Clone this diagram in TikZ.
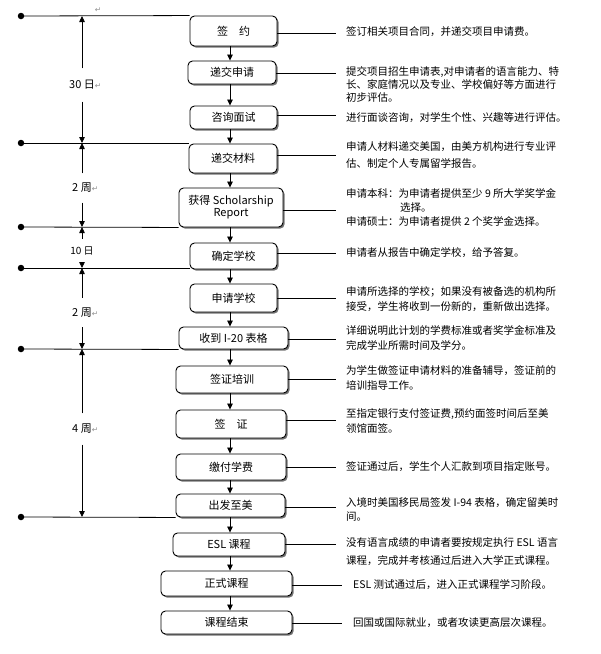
\documentclass[tikz,border=0pt]{standalone}
\usepackage{fontspec}
\setmainfont{Noto Sans CJK SC}
\newfontfamily\symfont{DejaVu Sans}
\usetikzlibrary{arrows.meta,shadows}
\newcommand\retmark{{\symfont\color{black!45}\fontsize{7.5}{8}\selectfont ↵}}
\tikzset{
  stepbox/.style={draw, line width=0.9pt, rounded corners=4.5pt, fill=white,
    font=\fontsize{11}{13}\selectfont, inner sep=0pt, align=center,
    drop shadow={shadow xshift=1.6pt, shadow yshift=-1.6pt, fill=black!55, opacity=1}},
  desc/.style={anchor=west, align=left, inner sep=0pt, font=\fontsize{10.5}{15}\selectfont},
  ln/.style={line width=0.8pt},
  arr/.style={ln, -{Triangle[length=6pt,width=5.5pt]}},
  dotmark/.style={circle, fill, inner sep=0pt, minimum size=6.5pt},
  dimlabel/.style={fill=white, inner sep=1pt, minimum height=29pt, font=\fontsize{11}{13}\selectfont},
}
\begin{document}
\begin{tikzpicture}[x=1pt,y=-1pt]
\useasboundingbox (0,0) rectangle (601,654);
\coordinate (axis) at (230,0);
% boxes
\node[stepbox, minimum width=87pt,  minimum height=30pt] (b1)  at (233.5,31)   {签\hspace{1em}约};
\node[stepbox, minimum width=88pt,  minimum height=23pt] (b2)  at (232,72.5)   {递交申请};
\node[stepbox, minimum width=87pt,  minimum height=23pt] (b3)  at (233.5,117.5){咨询面试};
\node[stepbox, minimum width=88pt,  minimum height=29pt] (b4)  at (233,158.5)  {递交材料};
\node[stepbox, minimum width=104pt, minimum height=39pt] (b5)  at (231,207.5)  {获得 Scholarship\\[-1pt]Report};
\node[stepbox, minimum width=87pt,  minimum height=26pt] (b6)  at (233.5,256)  {确定学校};
\node[stepbox, minimum width=87pt,  minimum height=28pt] (b7)  at (233.5,298)  {申请学校};
\node[stepbox, minimum width=109pt, minimum height=22pt] (b8)  at (233.5,338)  {收到 I-20 表格};
\node[stepbox, minimum width=112pt, minimum height=27pt] (b9)  at (232,379.5)  {签证培训};
\node[stepbox, minimum width=110pt, minimum height=28pt] (b10) at (231,424)    {签\hspace{1em}证};
\node[stepbox, minimum width=110pt, minimum height=26pt] (b11) at (231,467)    {缴付学费};
\node[stepbox, minimum width=109pt, minimum height=23pt] (b12) at (230.5,505.5){出发至美};
\node[stepbox, minimum width=112pt, minimum height=23pt] (b13) at (229,544.5)  {ESL 课程};
\node[stepbox, minimum width=131pt, minimum height=25pt] (b14) at (226.5,583.5){正式课程};
\node[stepbox, minimum width=131pt, minimum height=23pt] (b15) at (226.5,622.5){课程结束};
% flow arrows
\foreach \a/\b in {b1/b2,b2/b3,b3/b4,b4/b5,b5/b6,b6/b7,b7/b8,b8/b9,b9/b10,b10/b11,b11/b12,b12/b13,b13/b14,b14/b15}
  \draw[arr] (\a.south -| axis) -- (\b.north -| axis);
% left milestone lines
\node[dotmark] (d1) at (21,16) {};
\node[dotmark] (d2) at (21,143) {};
\node[dotmark] (d3) at (21,227) {};
\node[dotmark] (d4) at (21,268) {};
\node[dotmark] (d5) at (21,349) {};
\node[dotmark] (d6) at (21,517) {};
\draw[ln] (d1.center) -- (b1.north west);
\draw[ln] (d2.center) -- (b4.north west |- d2);
\draw[ln] (d3.center) -- (b5.south west);
\draw[ln] (d4.center) -- (b6.south west |- d4);
\draw[ln] (d5.center) -- (b8.south west);
\draw[ln] (d6.center) -- (b12.south west);
\node[inner sep=0pt] (rm) at (98,10) {\retmark};
% time spans
\coordinate (e1) at (82,16);
\coordinate (e2) at (82,143);
\coordinate (e3) at (82,227);
\coordinate (e4) at (82,268);
\coordinate (e5) at (82,349);
\coordinate (e6) at (82,517);
\node[dimlabel, minimum height=33pt] (s1) at (82,85) {30 日\rlap{\retmark}};
\node[dimlabel] (s2) at (82,188) {2 周\rlap{\retmark}};
\node[dimlabel, minimum height=24pt, font=\fontsize{10}{12}\selectfont] (s3) at (82,251) {10 日};
\node[dimlabel] (s4) at (82,312.5) {2 周\rlap{\retmark}};
\node[dimlabel, minimum height=31pt] (s5) at (82,429) {4 周\rlap{\retmark}};
\foreach \s/\u/\d in {s1/e1/e2, s2/e2/e3, s3/e3/e4, s4/e4/e5, s5/e5/e6}{
  \draw[arr] (\s) -- (\u);
  \draw[arr] (\s) -- (\d);
}
% right connectors
\coordinate (r1)  at (336,33);
\coordinate (r2)  at (336,73);
\coordinate (r3)  at (336,115);
\coordinate (r4)  at (336,155);
\coordinate (r5)  at (336,210);
\coordinate (r6)  at (336,253);
\coordinate (r7)  at (336,298);
\coordinate (r8)  at (336,339);
\coordinate (r9)  at (336,379);
\coordinate (r10) at (336,420);
\coordinate (r11) at (336,467);
\coordinate (r12) at (336,507);
\coordinate (r13) at (336,544);
\coordinate (r14) at (342,585);
\coordinate (r15) at (342,623);
\foreach \i in {1,...,15}
  \draw[ln] (b\i.east |- r\i) -- (r\i);
% descriptions
\node[desc] (t1) at (346,32) {签订相关项目合同，并递交项目申请费。};
\node[desc, font=\fontsize{10.5}{13}\selectfont] (t2) at (346,84) {提交项目招生申请表,对申请者的语言能力、特\\长、家庭情况以及专业、学校偏好等方面进行\\初步评估。};
\node[desc] (t3) at (346,118) {进行面谈咨询，对学生个性、兴趣等进行评估。};
\node[desc, font=\fontsize{10.5}{17}\selectfont] (t4) at (346,155.5) {申请人材料递交美国，由美方机构进行专业评\\估、制定个人专属留学报告。};
\node[desc, font=\fontsize{10.5}{14}\selectfont] (t5) at (346,207) {申请本科：为申请者提供至少 9 所大学奖学金\\\hspace{54pt}选择。\\申请硕士：为申请者提供 2 个奖学金选择。};
\node[desc] (t6) at (346,253) {申请者从报告中确定学校，给予答复。};
\node[desc] (t7) at (346,299.5) {申请所选择的学校；如果没有被备选的机构所\\接受，学生将收到一份新的，重新做出选择。};
\node[desc] (t8) at (346,337.5) {详细说明此计划的学费标准或者奖学金标准及\\完成学业所需时间及学分。};
\node[desc] (t9) at (346,377.5) {为学生做签证申请材料的准备辅导，签证前的\\培训指导工作。};
\node[desc] (t10) at (346,420.5) {至指定银行支付签证费,预约面签时间后至美\\领馆面签。};
\node[desc] (t11) at (346,467) {签证通过后，学生个人汇款到项目指定账号。};
\node[desc, font=\fontsize{10.5}{14}\selectfont] (t12) at (346,509) {入境时美国移民局签发 I-94 表格，确定留美时\\间。};
\node[desc, font=\fontsize{10.5}{18}\selectfont] (t13) at (346,552) {没有语言成绩的申请者要按规定执行 ESL 语言\\课程，完成并考核通过后进入大学正式课程。};
\node[desc] (t14) at (353,585) {ESL 测试通过后，进入正式课程学习阶段。};
\node[desc] (t15) at (353,623) {回国或国际就业，或者攻读更高层次课程。};
\end{tikzpicture}
\end{document}
